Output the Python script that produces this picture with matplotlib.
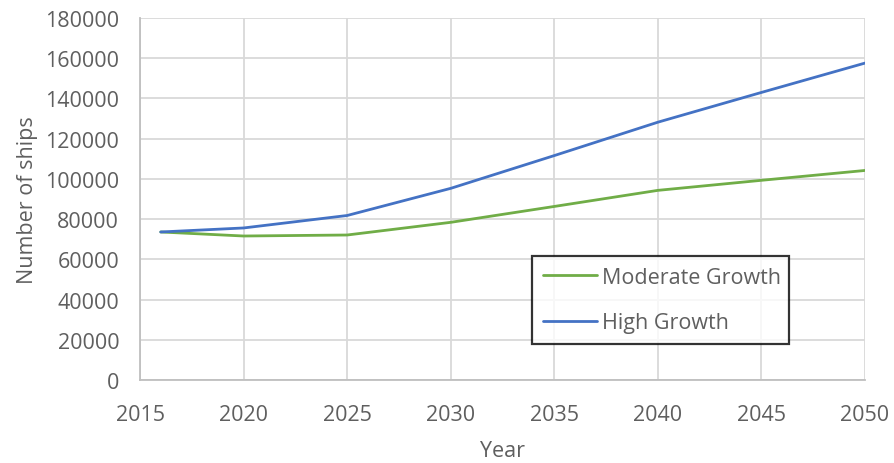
import matplotlib
matplotlib.use("Agg")
import matplotlib.pyplot as plt

years = [2016, 2020, 2025, 2030, 2035, 2040, 2045, 2050]
moderate_growth = [73600, 71600, 72100, 78400, 86300, 94300, 99300, 104200]
high_growth = [73600, 75600, 81800, 95300, 111600, 128200, 143000, 157600]

x_ticks = [2015, 2020, 2025, 2030, 2035, 2040, 2045, 2050]
y_ticks = [0, 20000, 40000, 60000, 80000, 100000, 120000, 140000, 160000, 180000]

plt.rcParams['font.family'] = ['Open Sans', 'DejaVu Sans']
text_color = '#5f5f5f'
grid_color = '#d9d9d9'
fs = 15.5

fig = plt.figure(figsize=(8.94, 4.64), dpi=100)
ax = fig.add_axes([0.1566, 0.1789, 0.811, 0.7801])

ax.plot(years, moderate_growth, color='#70AD47', lw=2.0, label='Moderate Growth',
        solid_capstyle='round')
ax.plot(years, high_growth, color='#4472C4', lw=2.0, label='High Growth',
        solid_capstyle='round')

ax.set_xlim(2015, 2050)
ax.set_ylim(0, 180000)
ax.set_xticks(x_ticks)
ax.set_yticks(y_ticks)
ax.set_xticklabels([str(t) for t in x_ticks])
ax.set_yticklabels([str(t) for t in y_ticks])
ax.grid(True, color=grid_color, lw=1.3)
ax.set_axisbelow(True)

for side in ['top', 'right']:
    ax.spines[side].set_visible(False)
for side in ['left', 'bottom']:
    ax.spines[side].set_color('#bfbfbf')
    ax.spines[side].set_linewidth(1.3)

ax.tick_params(axis='both', length=0, labelsize=fs, colors=text_color)
ax.tick_params(axis='x', pad=17)
ax.tick_params(axis='y', pad=15)

ax.set_xlabel('Year', fontsize=fs, color=text_color, labelpad=11)
ax.set_ylabel('Number of ships', fontsize=fs, color=text_color, labelpad=5)

leg = ax.legend(loc='lower left', bbox_to_anchor=(0.541, 0.099, 0.354, 0.249),
                mode='expand', fontsize=fs, frameon=True, fancybox=False,
                handlelength=2.5, handletextpad=0.25, labelspacing=1.15,
                borderpad=0.5, borderaxespad=0)
leg.get_frame().set_edgecolor('black')
leg.get_frame().set_linewidth(1.6)
for t in leg.get_texts():
    t.set_color(text_color)

fig.savefig('out.png', dpi=100)
